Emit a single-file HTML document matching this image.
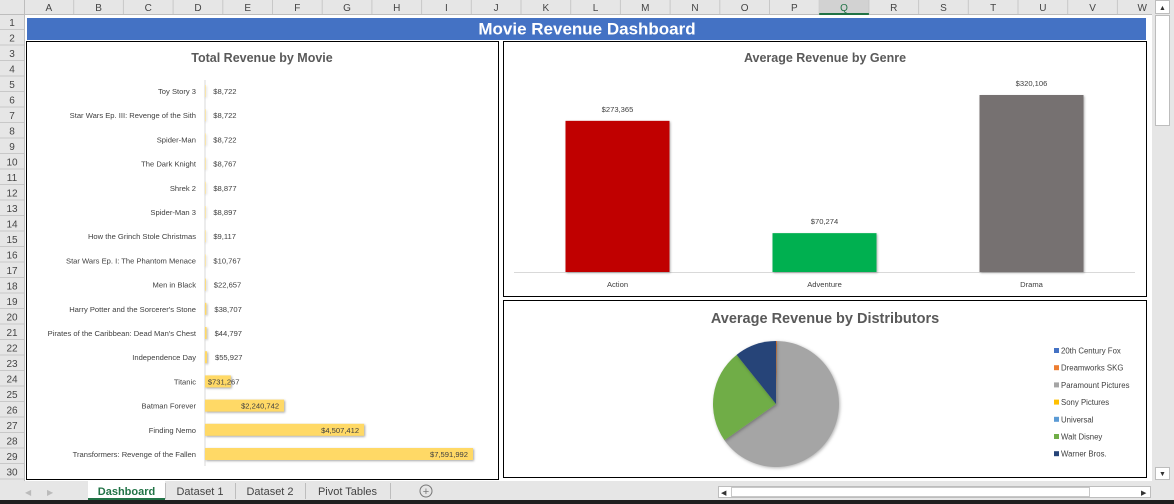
<!DOCTYPE html>
<html><head><meta charset="utf-8"><style>
html,body{margin:0;padding:0;background:#fff;width:1174px;height:504px;overflow:hidden}
svg{display:block;font-family:"Liberation Sans",sans-serif}
</style></head><body>
<svg id="s" width="1174" height="504" viewBox="0 0 1174 504" xmlns="http://www.w3.org/2000/svg">
<rect x="0" y="0" width="1174" height="504" fill="#ffffff"/>
<g id="grid"></g>
<rect x="27" y="18" width="1119" height="22" fill="#4472c4"/>
<text x="587" y="34.5" text-anchor="middle" font-size="17" font-weight="bold" fill="#fff">Movie Revenue Dashboard</text>
<rect x="26.5" y="41.5" width="472" height="438" fill="#fff" stroke="#000"/>
<rect x="503.5" y="41.5" width="643" height="255" fill="#fff" stroke="#000"/>
<rect x="503.5" y="300.5" width="643" height="177" fill="#fff" stroke="#000"/>
<text x="262" y="62" text-anchor="middle" font-size="12.5" font-weight="bold" fill="#595959">Total Revenue by Movie</text>
<text x="825" y="62" text-anchor="middle" font-size="12.5" font-weight="bold" fill="#595959">Average Revenue by Genre</text>
<text x="825" y="323" text-anchor="middle" font-size="14.5" font-weight="bold" fill="#595959">Average Revenue by Distributors</text>
<g id="movies"></g><g id="genres"></g><g id="pie"></g>
<g id="chrome"></g>
</svg>
<script>
const movieNames=["Toy Story 3","Star Wars Ep. III: Revenge of the Sith","Spider-Man","The Dark Knight","Shrek 2","Spider-Man 3","How the Grinch Stole Christmas","Star Wars Ep. I: The Phantom Menace","Men in Black","Harry Potter and the Sorcerer's Stone","Pirates of the Caribbean: Dead Man's Chest","Independence Day","Titanic","Batman Forever","Finding Nemo","Transformers: Revenge of the Fallen"];
const movieValues=[8722,8722,8722,8767,8877,8897,9117,10767,22657,38707,44797,55927,731267,2240742,4507412,7591992];
const genreNames=["Action","Adventure","Drama"];
const genreValues=[273365,70274,320106];
const genreColors=["#c00000","#00b050","#767171"];
const distNames=["20th Century Fox","Dreamworks SKG","Paramount Pictures","Sony Pictures","Universal","Walt Disney","Warner Bros."];
const distValues=[0,0.25,65,0,0,24,10.75];
const distColors=["#4472c4","#ed7d31","#a5a5a5","#ffc000","#5b9bd5","#70ad47","#264478"];
const colLetters=["A","B","C","D","E","F","G","H","I","J","K","L","M","N","O","P","Q","R","S","T","U","V","W"];

const NS="http://www.w3.org/2000/svg";
function mk(parent,tag,attrs,txt){const e=document.createElementNS(NS,tag);for(const k in attrs)e.setAttribute(k,attrs[k]);if(txt!==undefined)e.textContent=txt;parent.appendChild(e);return e;}
const fmt=v=>"$"+v.toLocaleString("en-US");

// spreadsheet headers
const g=document.getElementById("grid");
let r=mk(g,"rect",{x:0,y:0,width:1174,height:15,fill:"#e6e6e6"});


r=mk(g,"rect",{x:0,y:0,width:24,height:481,fill:"#e6e6e6"});


mk(g,"line",{x1:0,y1:14.5,x2:1152,y2:14.5,stroke:"#bdbdbd"});
mk(g,"line",{x1:24.5,y1:0,x2:24.5,y2:481,stroke:"#bdbdbd"});
const cw=49.7;
colLetters.forEach((c,i)=>{
  const x0=24+i*cw;
  if(c==="Q") mk(g,"rect",{x:x0,y:0,width:cw,height:14,fill:"#d2d2d2"});
  mk(g,"line",{x1:x0+cw,y1:0,x2:x0+cw,y2:14,stroke:"#c8c8c8"});
  const t=mk(g,"text",{x:x0+cw/2,y:11,"text-anchor":"middle","font-size":10,fill:c==="Q"?"#217346":"#444"},c);
  
  
});
mk(g,"line",{x1:24+16*cw,y1:14,x2:24+17*cw,y2:14,stroke:"#217346","stroke-width":2});
for(let i=1;i<=30;i++){
  const y0=14+(i-1)*15.5;
  mk(g,"line",{x1:0,y1:y0+15.5,x2:24,y2:y0+15.5,stroke:"#c8c8c8"});
  const t=mk(g,"text",{x:12,y:y0+12,"text-anchor":"middle","font-size":10,fill:"#444"},String(i));
  
  
}

// movie bar chart
const mg=document.getElementById("movies");
const axX=205, maxW=268, maxV=7591992, y0m=91, stepM=24.2;
const xs=v=>v/maxV*maxW;
mk(mg,"line",{x1:axX,y1:80,x2:axX,y2:466,stroke:"#d9d9d9"});
movieNames.forEach((n,i)=>{
  const cy=y0m+i*stepM, w=xs(movieValues[i]);
  const lab=mk(mg,"text",{x:axX-9,y:cy+3,"text-anchor":"end","font-size":7.6,fill:"#404040"},n);
  
  
  const b=mk(mg,"rect",{x:axX,y:cy-6,width:Math.max(w,0.5),height:12,fill:"#ffd966",style:"filter:drop-shadow(1px 1px 1px rgba(0,0,0,.35))"});
  
  
  let vl;
  if(w>60) vl=mk(mg,"text",{x:axX+w-5,y:cy+3,"text-anchor":"end","font-size":7.6,fill:"#404040"},fmt(movieValues[i]));
  else vl=mk(mg,"text",{x:axX+Math.max(w,0)+(w>10?-23:8),y:cy+3,"font-size":7.6,fill:"#404040"},fmt(movieValues[i]));
  
  
});

// genre column chart
const gg=document.getElementById("genres");
const base=272, plotL=514, plotR=1135, maxG=320106, hMax=177;
const band=(plotR-plotL)/genreNames.length, bw=104;
const ys=v=>base-v/maxG*hMax;
mk(gg,"line",{x1:plotL,y1:base+.5,x2:plotR,y2:base+.5,stroke:"#d9d9d9"});
genreNames.forEach((n,i)=>{
  const cx=plotL+band*(i+.5), top=ys(genreValues[i]);
  const b=mk(gg,"rect",{x:cx-bw/2,y:top,width:bw,height:base-top,fill:genreColors[i],style:"filter:drop-shadow(1px 1px 1px rgba(0,0,0,.3))"});
  
  
  const v=mk(gg,"text",{x:cx,y:top-9,"text-anchor":"middle","font-size":7.6,fill:"#404040"},fmt(genreValues[i]));
  
  
  const c=mk(gg,"text",{x:cx,y:287,"text-anchor":"middle","font-size":7.6,fill:"#404040"},n);
  
  
});

// pie
const pg=document.getElementById("pie");
const pcx=776, pcy=404, pr=63;
const tot=distValues.reduce((a,b)=>a+b,0);
let ang=0;
distValues.forEach((v,i)=>{
  if(v<=0) return;
  const a0=ang, a1=ang+v/tot*2*Math.PI; ang=a1;
  const p=(a)=>[pcx+pr*Math.sin(a),pcy-pr*Math.cos(a)];
  const [x0,y0]=p(a0),[x1,y1]=p(a1);
  const s=mk(pg,"path",{d:`M${pcx},${pcy}L${x0},${y0}A${pr},${pr} 0 ${a1-a0>Math.PI?1:0} 1 ${x1},${y1}Z`,fill:distColors[i],style:"filter:drop-shadow(1px 1px 1.5px rgba(0,0,0,.3))"});
  
  
});
distNames.forEach((n,i)=>{
  const y=351+i*17.2;
  const sw=mk(pg,"rect",{x:1054,y:y-3,width:5,height:5,fill:distColors[i]});
  
  
  const t=mk(pg,"text",{x:1061,y:y+2.5,"font-size":7.8,fill:"#404040"},n);
  
  
});

// chrome: scrollbars & tabs
const ch=document.getElementById("chrome");
mk(ch,"rect",{x:1152,y:0,width:22,height:481,fill:"#e6e6e6"});
let vs=mk(ch,"rect",{x:1155.5,y:15.5,width:14,height:110,fill:"#fff",stroke:"#bdbdbd"});


mk(ch,"rect",{x:1155.5,y:0.5,width:14,height:13,fill:"#fff",stroke:"#bdbdbd"});
mk(ch,"text",{x:1162.5,y:10,"text-anchor":"middle","font-size":7,fill:"#333"},"▲");
mk(ch,"rect",{x:1155.5,y:467.5,width:14,height:12,fill:"#fff",stroke:"#bdbdbd"});
mk(ch,"text",{x:1162.5,y:476,"text-anchor":"middle","font-size":7,fill:"#333"},"▼");
mk(ch,"rect",{x:0,y:481,width:1174,height:19,fill:"#e6e6e6"});
mk(ch,"rect",{x:0,y:500,width:1174,height:4,fill:"#1f1f1f"});
mk(ch,"text",{x:25,y:495,"font-size":8,fill:"#bbb"},"◀");
mk(ch,"text",{x:47,y:495,"font-size":8,fill:"#bbb"},"▶");
const tabs=[["Dashboard",88,165],["Dataset 1",165,235],["Dataset 2",235,305],["Pivot Tables",305,390]];
tabs.forEach((t,i)=>{
  if(i===0){mk(ch,"rect",{x:t[1],y:481,width:t[2]-t[1],height:19,fill:"#fff"});mk(ch,"line",{x1:t[1],y1:499,x2:t[2],y2:499,stroke:"#217346","stroke-width":2});}
  mk(ch,"line",{x1:t[2]+.5,y1:483,x2:t[2]+.5,y2:499,stroke:"#bdbdbd"});
  const e=mk(ch,"text",{x:(t[1]+t[2])/2,y:495,"text-anchor":"middle","font-size":11,"font-weight":i===0?"bold":"normal",fill:i===0?"#217346":"#444"},t[0]);
  
  
});
const add=mk(ch,"circle",{cx:426,cy:491,r:6,fill:"none",stroke:"#777"});


mk(ch,"text",{x:426,y:495,"text-anchor":"middle","font-size":11,fill:"#777"},"+");
const hs=mk(ch,"rect",{x:718.5,y:486.5,width:432,height:11,fill:"#fff",stroke:"#bdbdbd"});


mk(ch,"rect",{x:731.5,y:487.5,width:358,height:9,fill:"#fff",stroke:"#c8c8c8"});
mk(ch,"text",{x:721,y:495,"font-size":7,fill:"#333"},"◀");
mk(ch,"text",{x:1141,y:495,"font-size":7,fill:"#333"},"▶");
</script>
</body></html>
